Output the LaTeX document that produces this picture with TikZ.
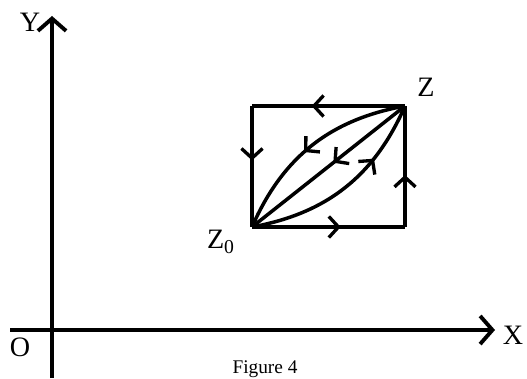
\documentclass[tikz,border=0pt]{standalone}
\usepackage{fontspec}
\setmainfont{Liberation Serif}
\usetikzlibrary{arrows.meta, decorations.markings, positioning}

\begin{document}
\begin{tikzpicture}[
    axis/.style={line width=2.2pt, -{Straight Barb[length=7pt, width=16pt, line width=2.2pt]}},
    edgepath/.style={line width=2pt},
    midarrow/.style={
        decoration={markings,
            mark=at position #1 with {\arrow{Straight Barb[length=5.5pt, width=12pt, line width=1.9pt]}}},
        postaction={decorate}
    },
    axislabel/.style={font=\fontsize{16}{18}\selectfont}
]

\useasboundingbox (0,0) rectangle (10.54,7.56);

% 1. Axes
\coordinate (ybot) at (1.04,0);
\coordinate (ytop) at (1.04,7.24);
\coordinate (xleft) at (0.2,0.96);
\coordinate (xright) at (9.9,0.96);
\draw[axis] (ybot) -- (ytop);
\draw[axis] (xleft) -- (xright);

\node[axislabel] (ylab) at (0.6,7.12) {Y};
\node[axislabel] (xlab) at (10.26,0.86) {X};
\node[axislabel] (olab) at (0.4,0.62) {O};
\node[font=\fontsize{11}{13}\selectfont] (caption) at (5.3,0.18) {Figure 4};

% 2. Corners of the rectangle
\coordinate (z0) at (5.04,3.02);
\coordinate (z) at (8.1,5.44);
\coordinate (tl) at (5.04,5.44);
\coordinate (br) at (8.1,3.02);

\node[axislabel] (zlab) at (8.52,5.82) {Z};
\node[axislabel] (z0lab) at (4.42,2.72) {Z\textsubscript{0}};

% 3. Paths round the rectangle
\draw[edgepath, midarrow=0.61] (z) -- (tl);
\draw[edgepath, midarrow=0.45] (tl) -- (z0);
\draw[edgepath, midarrow=0.58] (z0) -- (br);
\draw[edgepath, midarrow=0.43] (br) -- (z);

% 4. Paths across it
\draw[edgepath, midarrow=0.47] (z) -- (z0);
\draw[edgepath, midarrow=0.55] (z) to[bend right=28] (z0);
\draw[edgepath, midarrow=0.7] (z0) to[bend right=28] (z);

\end{tikzpicture}
\end{document}
